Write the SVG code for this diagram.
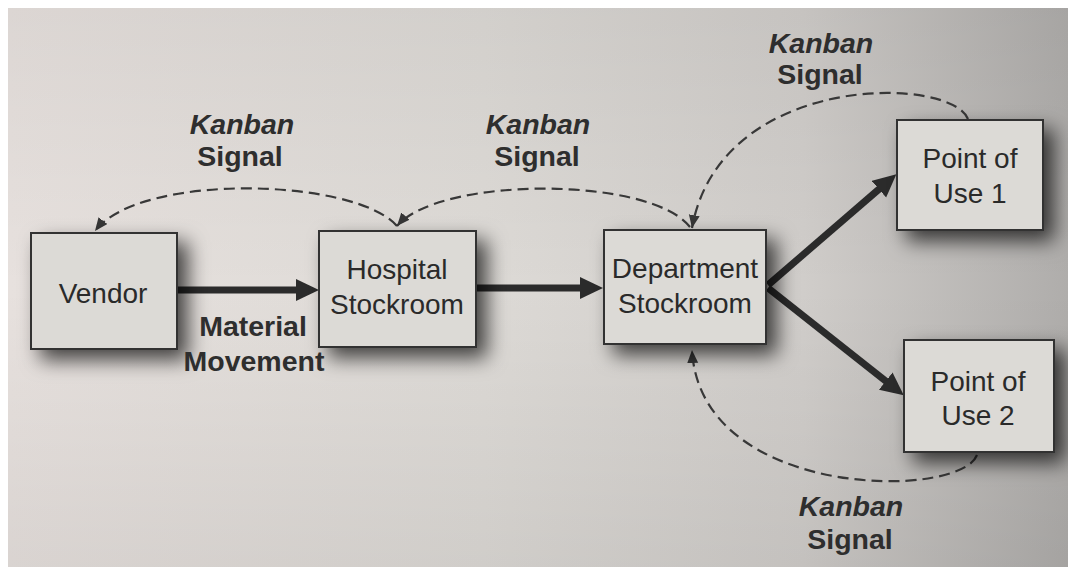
<svg xmlns="http://www.w3.org/2000/svg" width="1068" height="567" viewBox="0 0 1068 567">
  <defs>
    <linearGradient id="bg" x1="0" y1="0" x2="1" y2="0">
      <stop offset="0" stop-color="#e7e1de"/>
      <stop offset="0.45" stop-color="#dddad6"/>
      <stop offset="0.75" stop-color="#d0cdca"/>
      <stop offset="1" stop-color="#afadab"/>
    </linearGradient>
    <linearGradient id="bgv" x1="0" y1="0" x2="0" y2="1">
      <stop offset="0" stop-color="#000" stop-opacity="0.05"/>
      <stop offset="0.5" stop-color="#000" stop-opacity="0"/>
      <stop offset="1" stop-color="#000" stop-opacity="0.06"/>
    </linearGradient>
    <filter id="shadow" x="-20%" y="-20%" width="160%" height="160%">
      <feDropShadow dx="10" dy="10" stdDeviation="10" flood-color="#000" flood-opacity="0.7"/>
    </filter>
    <marker id="solidHead" markerUnits="userSpaceOnUse" markerWidth="26" markerHeight="24" refX="8" refY="11" orient="auto">
      <path d="M0,0 L23,11 L0,22 z" fill="#2b2b2b"/>
    </marker>
    <marker id="dashHead" markerUnits="userSpaceOnUse" markerWidth="16" markerHeight="12" refX="13" refY="5.5" orient="auto">
      <path d="M0,0 L13,5.5 L0,11 z" fill="#363636"/>
    </marker>
    <style>
      .box { fill: #dcdad6; stroke: #333; stroke-width: 2; filter: url(#shadow); }
      .ntext { font-family: "Liberation Sans", Arial, sans-serif; font-size: 28px; fill: #2a2a2a; text-anchor: middle; }
      .lbl { font-family: "Liberation Sans", Arial, sans-serif; font-size: 28.5px; font-weight: bold; fill: #2e2e2e; text-anchor: middle; }
      .it { font-style: italic; }
      .solid { stroke: #2b2b2b; stroke-width: 7; fill: none; marker-end: url(#solidHead); }
      .dash { stroke: #383838; stroke-width: 2.2; fill: none; stroke-dasharray: 11 6; marker-end: url(#dashHead); }
    </style>
  </defs>

  <rect x="0" y="0" width="1068" height="567" fill="#ffffff"/>
  <rect x="8" y="8" width="1060" height="559" fill="url(#bg)"/>
  <rect x="8" y="8" width="1060" height="559" fill="url(#bgv)"/>

  <g id="connectors">
    <line class="solid" x1="178" y1="290" x2="304" y2="290"/>
    <line class="solid" x1="477" y1="288" x2="588" y2="288"/>
    <line class="solid" x1="768" y1="285" x2="885" y2="184"/>
    <line class="solid" x1="768" y1="288" x2="892" y2="386"/>
    <path class="dash" d="M397,226 C355,178 140,172 95,231"/>
    <path class="dash" d="M690,227 C650,176 440,176 397,226"/>
    <path class="dash" d="M968,119 C950,75 720,72 692,228"/>
    <path class="dash" d="M977,455 C960,500 700,500 692,350"/>
  </g>

  <g id="vendor">
    <rect class="box" x="31" y="233" width="146" height="116"/>
    <text class="ntext" x="103" y="303">Vendor</text>
  </g>
  <g id="hospital-stockroom">
    <rect class="box" x="319" y="231" width="157" height="116"/>
    <text class="ntext" x="397" y="279">Hospital</text>
    <text class="ntext" x="397" y="314">Stockroom</text>
  </g>
  <g id="department-stockroom">
    <rect class="box" x="604" y="230" width="162" height="114"/>
    <text class="ntext" x="685" y="278">Department</text>
    <text class="ntext" x="685" y="313">Stockroom</text>
  </g>
  <g id="point-of-use-1">
    <rect class="box" x="897" y="120" width="146" height="110"/>
    <text class="ntext" x="970" y="168">Point of</text>
    <text class="ntext" x="970" y="203">Use 1</text>
  </g>
  <g id="point-of-use-2">
    <rect class="box" x="904" y="340" width="150" height="112"/>
    <text class="ntext" x="978" y="391">Point of</text>
    <text class="ntext" x="978" y="425">Use 2</text>
  </g>

  <g id="labels">
    <text class="lbl it" x="242" y="134">Kanban</text>
    <text class="lbl" x="240" y="166">Signal</text>
    <text class="lbl it" x="538" y="134">Kanban</text>
    <text class="lbl" x="537" y="166">Signal</text>
    <text class="lbl it" x="821" y="53">Kanban</text>
    <text class="lbl" x="820" y="84">Signal</text>
    <text class="lbl it" x="851" y="516">Kanban</text>
    <text class="lbl" x="850" y="549">Signal</text>
    <text class="lbl" x="253" y="336">Material</text>
    <text class="lbl" x="254" y="371">Movement</text>
  </g>
</svg>
